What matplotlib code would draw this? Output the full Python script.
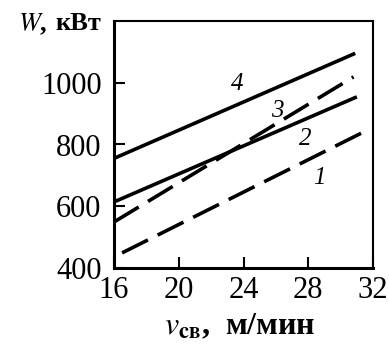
import matplotlib.pyplot as plt

plt.rcParams['font.family'] = ['Liberation Serif', 'DejaVu Serif']

# значения
v1 = [16.5, 31.4]
w1 = [449, 840]
v2 = [16.0, 30.9]
w2 = [614, 952]
v3 = [16.0, 30.8]
w3 = [549, 1019]
v4 = [16.0, 30.8]
w4 = [755, 1093]

labels = ['1', '2', '3', '4']
label_x = [28.7, 27.8, 26.1, 23.6]
label_y = [690, 819, 910, 997]

xticks = [16, 20, 24, 28, 32]
yticks = [400, 600, 800, 1000]

fig = plt.figure(figsize=(3.89, 3.51), dpi=100)
ax = fig.add_axes([114 / 389, 1 - 268 / 351, 259 / 389, 247 / 351])

dash = (0, (8, 3))
ax.plot(v1, w1, color='black', lw=2.6, linestyle=dash)
ax.plot(v2, w2, color='black', lw=2.6)
ax.plot(v3, w3, color='black', lw=2.6, linestyle=dash)
ax.plot(v4, w4, color='black', lw=2.6)

for t, x, y in zip(labels, label_x, label_y):
    ax.text(x, y, t, fontsize=18, style='italic', ha='center', va='center')

ax.set_xlim(16, 32)
ax.set_ylim(400, 1200)
ax.set_xticks(xticks)
ax.set_yticks(yticks)
ax.tick_params(direction='in', length=8, width=1.5, labelsize=22)
ax.tick_params(axis='y', pad=9)
ax.tick_params(axis='x', pad=6)
for s in ['left', 'bottom']:
    ax.spines[s].set_linewidth(2.2)
for s in ['top', 'right']:
    ax.spines[s].set_linewidth(1.5)

# подпись оси W
fig.text(18 / 389, 1 - 24 / 351, r'$\mathbf{\mathit{W}}$' + ',', fontsize=19,
         fontweight='bold', va='center', ha='left', math_fontfamily='stix')
fig.text(101 / 389, 1 - 24 / 351, 'кВт', fontsize=19,
         fontweight='bold', va='center', ha='right')
fig.text(240 / 389, 1 - 327 / 351, r'$\mathbf{\mathit{v}}_{\mathbf{св}}$' + ',  м/мин',
         fontsize=23, fontweight='bold', va='center', ha='center',
         math_fontfamily='stix')

plt.savefig('out.png', dpi=100)
